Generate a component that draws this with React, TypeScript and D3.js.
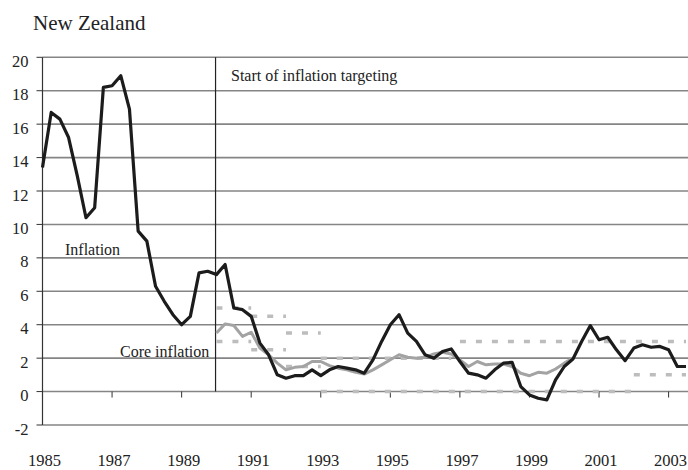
import React from 'react'
import * as d3 from 'd3'

// quarterly data, 1985Q1 .. 2003Q3 (index 0..74)
const startYear = 1985
const inflation = [
  13.4, 16.7, 16.3, 15.2, 12.9, 10.4, 11.0, 18.2, 18.3, 18.9,
  16.9, 9.6, 9.0, 6.3, 5.4, 4.6, 4.0, 4.5, 7.1, 7.2,
  7.0, 7.6, 5.0, 4.9, 4.5, 2.9, 2.2, 1.0, 0.8, 0.95,
  0.95, 1.3, 0.95, 1.3, 1.5, 1.4, 1.3, 1.1, 1.9, 3.0,
  4.0, 4.6, 3.5, 3.0, 2.2, 2.0, 2.4, 2.55, 1.8, 1.1,
  1.0, 0.8, 1.3, 1.7, 1.75, 0.3, -0.2, -0.4, -0.5, 0.7,
  1.5, 1.95, 3.0, 3.95, 3.1, 3.25, 2.5, 1.85, 2.6, 2.8,
  2.65, 2.7, 2.5, 1.5, 1.5,
]

// core inflation starts 1990Q1 (index 20)
const coreStart = 20
const coreInflation = [
  3.5, 4.05, 3.95, 3.3, 3.55, 2.6, 2.2, 1.7, 1.3, 1.45,
  1.5, 1.8, 1.8, 1.55, 1.4, 1.3, 1.15, 1.05, 1.3, 1.6,
  1.9, 2.2, 2.05, 2.0, 2.05, 2.25, 2.35, 2.25, 1.9, 1.5,
  1.8, 1.6, 1.65, 1.65, 1.5, 1.1, 0.95, 1.15, 1.1, 1.35,
  1.7, 2.0,
]

// target band segments: [from index, to index, value]
const bandUpper = [
  [20, 24, 5], [24, 28, 4.5], [28, 32, 3.5], [32, 47, 2], [48, 74, 3],
]
const bandLower = [
  [20, 24, 3], [24, 28, 2.5], [28, 32, 1.5], [32, 68, 0], [68, 74, 1],
]

const targetingStart = 19.9
const yTicks = [-2, 0, 2, 4, 6, 8, 10, 12, 14, 16, 18, 20]
const xLabelIdx = [0, 8, 16, 24, 32, 40, 48, 56, 64, 72]

const W = 688
const H = 470
const font = '"Liberation Serif", "DejaVu Serif", serif'

export default function App() {
  const x = d3.scaleLinear().domain([0, 74]).range([42.5, 686])
  const y = d3.scaleLinear().domain([-2, 20]).range([425, 57.3])

  const line = d3
    .line<[number, number]>()
    .x((d) => x(d[0]))
    .y((d) => y(d[1]))

  const inflPts = inflation.map((v, i) => [i, v] as [number, number])
  const corePts = coreInflation.map((v, i) => [i + coreStart, v] as [number, number])
  const bands = [...bandUpper, ...bandLower]

  return (
    <svg
      width={W}
      height={H}
      style={{ position: 'absolute', left: 0, top: 0, background: '#fff', fontFamily: font }}
    >
      <text x={33} y={30} fontSize={21} fill="#222">
        New Zealand
      </text>

      {/* gridlines */}
      {yTicks.map((t) => (
        <g key={t}>
          <line x1={x(0)} x2={W} y1={y(t)} y2={y(t)} stroke="#858585" strokeWidth={1.6} />
          <line x1={x(0) - 6} x2={x(0)} y1={y(t)} y2={y(t)} stroke="#333" strokeWidth={1} />
          <text x={28.5} y={y(t) + 9.5} fontSize={16.5} textAnchor="end" fill="#222">
            {t}
          </text>
        </g>
      ))}

      {/* y axis */}
      <line x1={x(0)} x2={x(0)} y1={y(20)} y2={y(-2)} stroke="#333" strokeWidth={1.2} />

      {/* x ticks on zero line */}
      {xLabelIdx.slice(1).map((i) => (
        <line key={i} x1={x(i)} x2={x(i)} y1={y(0)} y2={y(0) + 6} stroke="#333" strokeWidth={1} />
      ))}
      {xLabelIdx.map((i) => (
        <text key={i} x={x(i) + 2} y={466} fontSize={16.5} textAnchor="middle" fill="#222">
          {startYear + i / 4}
        </text>
      ))}

      {/* start of targeting */}
      <line
        x1={x(targetingStart)}
        x2={x(targetingStart)}
        y1={y(20)}
        y2={y(0)}
        stroke="#222"
        strokeWidth={1.2}
      />
      <text x={231} y={81} fontSize={16} fill="#222">
        Start of inflation targeting
      </text>

      {/* target bands */}
      {bands.map(([a, b, v], k) => (
        <line
          key={k}
          x1={x(a)}
          x2={x(b)}
          y1={y(v)}
          y2={y(v)}
          stroke="#bdbdbd"
          strokeWidth={3.5}
          strokeDasharray="6,10"
        />
      ))}

      <path d={line(corePts) || ''} fill="none" stroke="#a3a3a3" strokeWidth={3} strokeLinejoin="round" />
      <path d={line(inflPts) || ''} fill="none" stroke="#1c1c1c" strokeWidth={3.2} strokeLinejoin="round" />

      <text x={65} y={255} fontSize={16} fill="#222">
        Inflation
      </text>
      <text x={120} y={356.5} fontSize={16} fill="#222">
        Core inflation
      </text>
    </svg>
  )
}
